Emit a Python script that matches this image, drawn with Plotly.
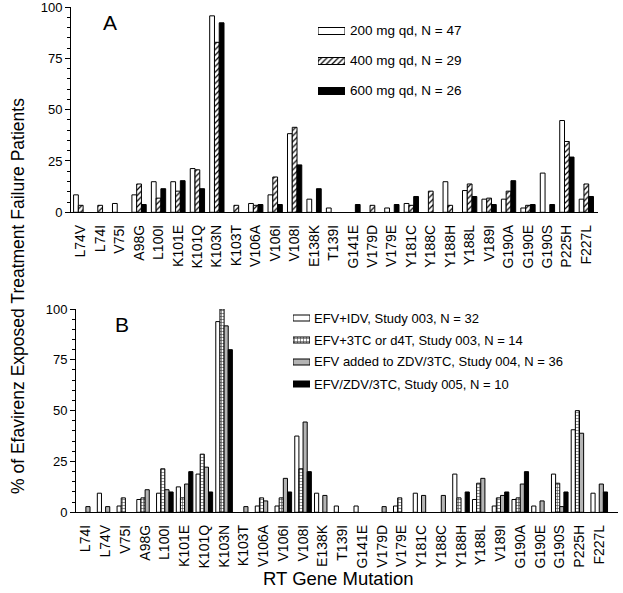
import plotly.graph_objects as go

W, H = 623, 593

# ---------------- data ----------------
cats_a = ["L74V", "L74I", "V75I", "A98G", "L100I", "K101E", "K101Q", "K103N", "K103T",
          "V106A", "V106I", "V108I", "E138K", "T139I", "G141E", "V179D", "V179E", "Y181C",
          "Y188C", "Y188H", "Y188L", "V189I", "G190A", "G190E", "G190S", "P225H", "F227L"]
a_200 = [8.5, None, 4.3, 8.5, 14.9, 14.9, 21.3, 95.7, None, 4.3, 8.5, 38.3, 6.4, 2.1, None,
         None, 2.1, 4.3, None, 14.9, 10.6, 6.4, 6.4, 2.1, 19.1, 44.7, 6.4]
a_400 = [3.4, 3.4, None, 13.8, 6.9, 10.3, 20.7, 82.8, 3.4, 3.4, 17.2, 41.4, None, None, None,
         3.4, None, 3.4, 10.3, 3.4, 13.8, 6.9, 10.3, 3.4, None, 34.5, 13.8]
a_600 = [None, None, None, 3.8, 11.5, 15.4, 11.5, 92.3, None, 3.8, 3.8, 23.1, 11.5, None, 3.8,
         None, 3.8, 7.7, None, None, 7.7, 3.8, 15.4, 3.8, 3.8, 26.9, 7.7]
names_a = ["200 mg qd, N = 47", "400 mg qd, N = 29", "600 mg qd, N = 26"]

cats_b = ["L74I", "L74V", "V75I", "A98G", "L100I", "K101E", "K101Q", "K103N", "K103T",
          "V106A", "V106I", "V108I", "E138K", "T139I", "G141E", "V179D", "V179E", "Y181C",
          "Y188C", "Y188H", "Y188L", "V189I", "G190A", "G190E", "G190S", "P225H", "F227L"]
b_idv = [None, 9.4, 3.1, 6.3, 9.4, 12.5, 18.8, 93.8, None, 3.1, 3.1, 37.5, 9.4, 3.1, 3.1,
         None, 3.1, 9.4, None, 18.8, 6.3, 3.1, 6.3, 3.1, 18.8, 40.6, 9.4]
b_3tc = [None, None, 7.1, 7.1, 21.4, 7.1, 28.6, 100.0, None, 7.1, 7.1, 21.4, None, None, None,
         None, 7.1, None, None, 7.1, 14.3, 7.1, 7.1, None, 14.3, 50.0, None]
b_004 = [2.8, 2.8, None, 11.1, 11.1, 13.9, 22.2, 91.7, 2.8, 5.6, 16.7, 44.4, 8.3, None, None,
         2.8, None, 8.3, 8.3, None, 16.7, 8.3, 13.9, 5.6, 2.8, 38.9, 13.9]
b_005 = [None, None, None, None, 10, 20, 10, 80, None, None, 10, 20, None, None, None,
         None, None, None, None, 10, None, 10, 20, None, 10, None, 10]
names_b = ["EFV+IDV, Study 003, N = 32", "EFV+3TC or d4T, Study 003, N = 14",
           "EFV added to ZDV/3TC, Study 004, N = 36", "EFV/ZDV/3TC, Study 005, N = 10"]

y_ticks = [0, 25, 50, 75, 100]

# ---------------- styles ----------------
FONT = "Liberation Sans, Arial, Helvetica, sans-serif"
styles_a = [
    dict(color="white", pattern=dict(shape="")),
    dict(color="white", pattern=dict(shape="/", size=4, solidity=0.3, fgcolor="black", bgcolor="white")),
    dict(color="black", pattern=dict(shape="")),
]
styles_b = [
    dict(color="white", pattern=dict(shape="")),
    dict(color="white", pattern=dict(shape="+", size=3, solidity=0.35, fgcolor="#444444", bgcolor="white")),
    dict(color="#b4b4b4", pattern=dict(shape="")),
    dict(color="black", pattern=dict(shape="")),
]


def fx(px):
    return px / W


def fy(py):
    return 1 - py / H


fig = go.Figure()

# panel A bars
wa = 0.245
for i, (vals, st) in enumerate(zip([a_200, a_400, a_600], styles_a)):
    fig.add_trace(go.Bar(
        x=list(range(len(cats_a))), y=vals, width=wa, offset=(i - 1.5) * wa,
        marker=dict(color=st["color"], pattern=st["pattern"], line=dict(color="black", width=1)),
        xaxis="x", yaxis="y", name=names_a[i], showlegend=False))

# panel B bars
wb = 0.21
for i, (vals, st) in enumerate(zip([b_idv, b_3tc, b_004, b_005], styles_b)):
    fig.add_trace(go.Bar(
        x=list(range(len(cats_b))), y=vals, width=wb, offset=(i - 2) * wb,
        marker=dict(color=st["color"], pattern=st["pattern"], line=dict(color="black", width=1)),
        xaxis="x2", yaxis="y2", name=names_b[i], showlegend=False))

# legend swatches (drawn as horizontal bars on small helper axes)
for k, st in enumerate(styles_a):
    fig.add_trace(go.Bar(
        y=[k], x=[1], base=0, orientation="h", width=7 / 30,
        marker=dict(color=st["color"], pattern=st["pattern"], line=dict(color="black", width=1)),
        xaxis="x3", yaxis="y3", showlegend=False, hoverinfo="skip"))
for k, st in enumerate(styles_b):
    fig.add_trace(go.Bar(
        y=[k], x=[1], base=0, orientation="h", width=6 / 22,
        marker=dict(color=st["color"], pattern=st["pattern"], line=dict(color="black", width=1)),
        xaxis="x4", yaxis="y4", showlegend=False, hoverinfo="skip"))

yax_common = dict(range=[0, 100], tickvals=y_ticks, ticks="outside", ticklen=5, tickwidth=1,
                  tickcolor="black", showline=True, linecolor="black", linewidth=1,
                  showgrid=False, zeroline=False, automargin=False, ticklabeloverflow="allow",
                  tickfont=dict(family=FONT, size=13, color="black"),
                  minor=dict(dtick=5, ticks="outside", ticklen=3, tickcolor="black", showgrid=False))
xax_common = dict(showline=True, linecolor="black", linewidth=1, showgrid=False, zeroline=False,
                  ticks="", tickangle=-90, automargin=False, ticklabeloverflow="allow",
                  tickfont=dict(family=FONT, size=14, color="black"),
                  ticklabelstandoff=6)
hidden = dict(visible=False, showgrid=False, zeroline=False, fixedrange=True, automargin=False)


def ann(text, x, y, size, xanchor="center", angle=0):
    return dict(text=text, x=fx(x), y=fy(y), xref="paper", yref="paper", showarrow=False,
                xanchor=xanchor, yanchor="middle", textangle=angle,
                font=dict(family=FONT, size=size, color="black"))


annotations = [
    ann("A", 110, 23, 21),
    ann("B", 122, 324, 21),
    ann("% of Efavirenz Exposed Treatment Failure Patients", 18, 296, 17.5, angle=-90),
    ann("RT Gene Mutation", 338, 578, 18.5),
]
for k, nm in enumerate(names_a):
    annotations.append(ann(nm, 348, 31 + 30 * k, 13.5, xanchor="left"))
for k, nm in enumerate(names_b):
    annotations.append(ann(nm, 312, 318 + 22 * k, 13, xanchor="left"))

fig.update_layout(
    template="none",
    width=W, height=H, margin=dict(l=0, r=0, t=0, b=0, pad=0, autoexpand=False),
    paper_bgcolor="white", plot_bgcolor="white", barmode="overlay", showlegend=False,
    xaxis=dict(domain=[fx(71), fx(598)], range=[-0.5, 26.6], tickvals=list(range(len(cats_a))),
               ticktext=cats_a, anchor="y", **xax_common),
    yaxis=dict(domain=[fy(212.3), fy(7)], anchor="x", **yax_common),
    xaxis2=dict(domain=[fx(76), fx(618)], range=[-0.5, 26.95], tickvals=list(range(len(cats_b))),
                ticktext=cats_b, anchor="y2", **xax_common),
    yaxis2=dict(domain=[fy(512.3), fy(309)], anchor="x2", **yax_common),
    xaxis3=dict(domain=[fx(318), fx(345)], range=[0, 1], anchor="y3", **hidden),
    yaxis3=dict(domain=[fy(106), fy(16)], range=[2.5, -0.5], anchor="x3", **hidden),
    xaxis4=dict(domain=[fx(293), fx(310)], range=[0, 1], anchor="y4", **hidden),
    yaxis4=dict(domain=[fy(395), fy(307)], range=[3.5, -0.5], anchor="x4", **hidden),
    annotations=annotations,
)

fig.write_html("out.html", config={"displayModeBar": False, "staticPlot": True},
               post_script="document.body.style.margin='0';document.body.style.overflow='hidden';")
